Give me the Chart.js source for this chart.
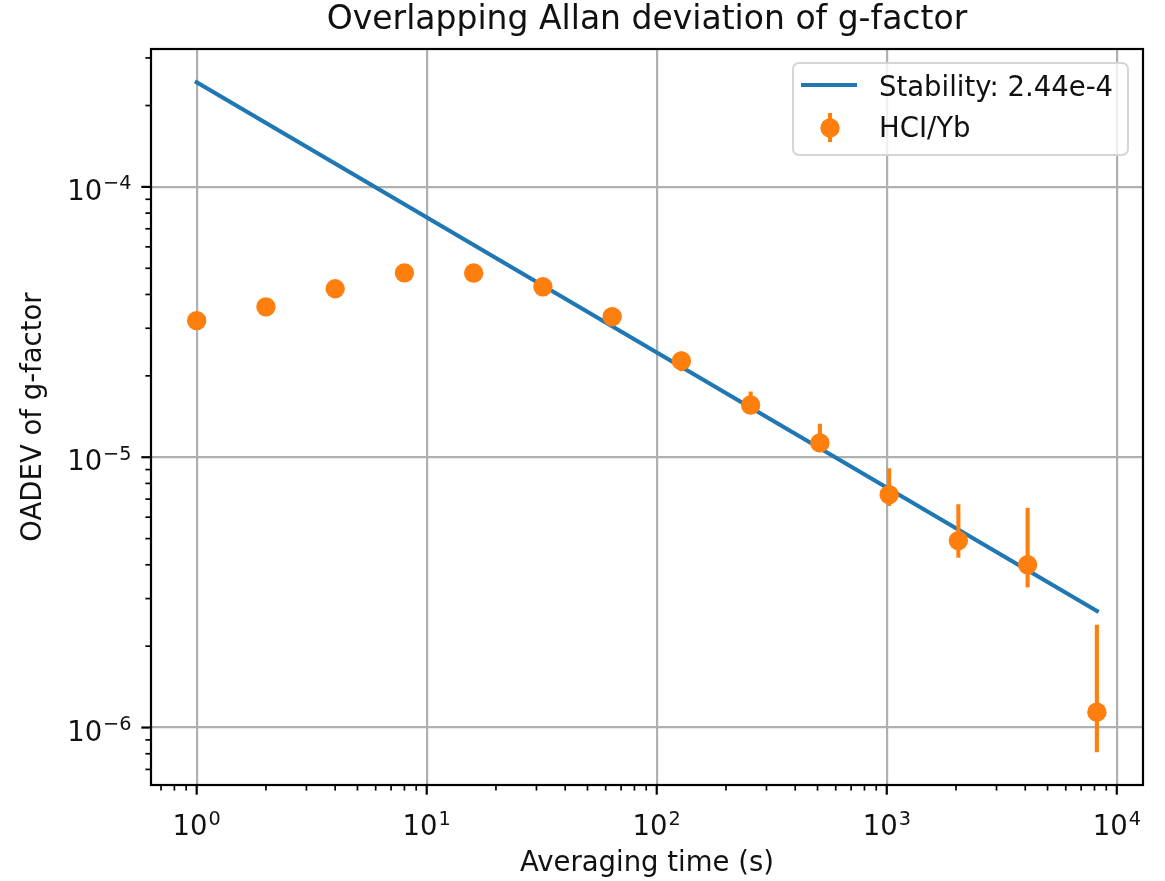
<!DOCTYPE html>
<html>
<head>
<meta charset="utf-8">
<script src="https://cdn.jsdelivr.net/npm/chart.js@4.4.1/dist/chart.umd.min.js"></script>
<style>
  html, body { margin: 0; padding: 0; background: #fff; }
  canvas { display: block; }
</style>
</head>
<body>
<canvas id="allanChart" width="1165" height="881"></canvas>
<script>
// averaging times (s) and measured OADEV
const tau = [1, 2, 4, 8, 16, 32, 64, 128, 256, 512, 1024, 2048, 4096, 8192];
const oadev = [3.20e-5, 3.60e-5, 4.20e-5, 4.81e-5, 4.80e-5, 4.27e-5, 3.31e-5,
               2.27e-5, 1.56e-5, 1.13e-5, 7.27e-6, 4.91e-6, 4.00e-6, 1.14e-6];
// error bar ends (lower / upper)
const errLow = [3.13e-5, 3.52e-5, 4.10e-5, 4.68e-5, 4.64e-5, 4.08e-5, 3.10e-5,
                2.08e-5, 1.45e-5, 1.05e-5, 6.6e-6, 4.25e-6, 3.3e-6, 8.1e-7];
const errHigh = [3.27e-5, 3.68e-5, 4.30e-5, 4.94e-5, 4.96e-5, 4.46e-5, 3.52e-5,
                 2.46e-5, 1.75e-5, 1.33e-5, 9.1e-6, 6.7e-6, 6.5e-6, 2.4e-6];

// fitted white-noise line (endpoints)
const fitTau = [1, 8192];
const fitDev = [2.44e-4, 2.70e-6];

// axis ranges and major ticks, labels drawn as 10^exp
const xMin = 0.633, xMax = 13000;
const yMin = 6.13e-7, yMax = 3.237e-4;
const xMajor = [1, 10, 100, 1000, 10000];
const xTickExp = ['0', '1', '2', '3', '4'];
const yMajor = [1e-6, 1e-5, 1e-4];
const yTickExp = ['\u22126', '\u22125', '\u22124'];

const BLUE = '#1f77b4';
const ORANGE = '#ff7f0e';
const FONT = "'DejaVu Sans', sans-serif";
const FS = 27.5;      // 10pt at 200 dpi
const LW = 4.1;       // 1.5pt lines

function findMajor(majors, v) {
    return majors.findIndex(m => Math.abs(v / m - 1) < 1e-6);
}

// all 1..9 x 10^n ticks inside the range
function logTicks(min, max) {
    const out = [];
    for (let e = Math.floor(Math.log10(min)); e <= Math.ceil(Math.log10(max)); e++) {
        for (let m = 1; m <= 9; m++) {
            const v = Number(m + 'e' + e);
            if (v >= min && v <= max) out.push({ value: v });
        }
    }
    return out;
}

// draws "10" with a raised exponent, x = left edge, y = baseline
function drawPow(ctx, x, y, exp) {
    ctx.font = FS + 'px ' + FONT;
    ctx.fillText('10', x, y);
    const w = ctx.measureText('10').width;
    ctx.font = (FS * 0.7) + 'px ' + FONT;
    ctx.fillText(exp, x + w + 1, y - 10.5);
}
function powWidth(ctx, exp) {
    ctx.font = FS + 'px ' + FONT;
    const w = ctx.measureText('10').width;
    ctx.font = (FS * 0.7) + 'px ' + FONT;
    return w + 1 + ctx.measureText(exp).width;
}

// error bars go under the markers
const errorBars = {
    id: 'errorBars',
    beforeDatasetDraw(chart, args) {
        if (args.index !== 0) return;
        const xs = chart.scales.x, ys = chart.scales.y, ctx = chart.ctx;
        ctx.save();
        ctx.strokeStyle = ORANGE;
        ctx.lineWidth = LW;
        tau.forEach((t, i) => {
            const px = xs.getPixelForValue(t);
            ctx.beginPath();
            ctx.moveTo(px, ys.getPixelForValue(errLow[i]));
            ctx.lineTo(px, ys.getPixelForValue(errHigh[i]));
            ctx.stroke();
        });
        ctx.restore();
    }
};

// frame, outward tick marks, tick labels and the in-axes legend
const decorations = {
    id: 'decorations',
    afterDraw(chart) {
        const ctx = chart.ctx, a = chart.chartArea;
        const xs = chart.scales.x, ys = chart.scales.y;
        ctx.save();
        ctx.strokeStyle = '#000';
        xs.ticks.forEach(t => {
            const major = findMajor(xMajor, t.value) >= 0;
            const px = xs.getPixelForValue(t.value);
            ctx.lineWidth = major ? 2.2 : 1.7;
            ctx.beginPath();
            ctx.moveTo(px, a.bottom);
            ctx.lineTo(px, a.bottom + (major ? 9.7 : 5.6));
            ctx.stroke();
        });
        ys.ticks.forEach(t => {
            const major = findMajor(yMajor, t.value) >= 0;
            const py = ys.getPixelForValue(t.value);
            ctx.lineWidth = major ? 2.2 : 1.7;
            ctx.beginPath();
            ctx.moveTo(a.left, py);
            ctx.lineTo(a.left - (major ? 9.7 : 5.6), py);
            ctx.stroke();
        });
        ctx.lineWidth = 2.2;
        ctx.strokeRect(a.left, a.top, a.right - a.left, a.bottom - a.top);

        // tick labels
        ctx.fillStyle = '#111';
        ctx.textBaseline = 'alphabetic';
        ctx.textAlign = 'left';
        xMajor.forEach((v, i) => {
            const px = xs.getPixelForValue(v);
            const w = powWidth(ctx, xTickExp[i]);
            drawPow(ctx, px - w / 2, a.bottom + 50, xTickExp[i]);
        });
        yMajor.forEach((v, i) => {
            const py = ys.getPixelForValue(v);
            const w = powWidth(ctx, yTickExp[i]);
            drawPow(ctx, a.left - 19.5 - w, py + 13, yTickExp[i]);
        });

        // legend box
        const bx = 793, by = 63, bw = 335, bh = 92;
        ctx.beginPath();
        ctx.roundRect(bx, by, bw, bh, 6);
        ctx.fillStyle = 'rgba(255,255,255,0.8)';
        ctx.fill();
        ctx.strokeStyle = '#d5d5d5';
        ctx.lineWidth = 2;
        ctx.stroke();

        ctx.strokeStyle = BLUE;
        ctx.lineWidth = LW;
        ctx.beginPath();
        ctx.moveTo(801, 85);
        ctx.lineTo(857, 85);
        ctx.stroke();

        ctx.strokeStyle = ORANGE;
        ctx.beginPath();
        ctx.moveTo(830, 113);
        ctx.lineTo(830, 142);
        ctx.stroke();
        ctx.fillStyle = ORANGE;
        ctx.beginPath();
        ctx.arc(830, 128, 9.7, 0, Math.PI * 2);
        ctx.fill();

        ctx.fillStyle = '#111';
        ctx.font = FS + 'px ' + FONT;
        ctx.textBaseline = 'alphabetic';
        ctx.fillText(chart.data.datasets[1].label, 879, 96);
        ctx.fillText(chart.data.datasets[0].label, 879, 137);
        ctx.restore();
    }
};

const ctx = document.getElementById('allanChart').getContext('2d');
const myChart = new Chart(ctx, {
    type: 'scatter',
    data: {
        datasets: [
            {
                label: 'HCI/Yb',
                data: tau.map((t, i) => ({ x: t, y: oadev[i] })),
                backgroundColor: ORANGE,
                borderWidth: 0,
                pointRadius: 9.7,
                pointHoverRadius: 9.7,
                showLine: false,
                order: 1
            },
            {
                label: 'Stability: 2.44e-4',
                data: fitTau.map((t, i) => ({ x: t, y: fitDev[i] })),
                borderColor: BLUE,
                borderWidth: LW,
                borderCapStyle: 'square',
                pointRadius: 0,
                showLine: true,
                order: 2
            }
        ]
    },
    options: {
        responsive: false,
        animation: false,
        devicePixelRatio: 1,
        layout: { padding: { left: 0, right: 22, top: 0, bottom: 0 } },
        plugins: {
            legend: { display: false },
            tooltip: { enabled: false },
            title: {
                display: true,
                fullSize: false,
                text: 'Overlapping Allan deviation of g-factor',
                color: '#111',
                font: { family: FONT, size: 33, weight: 'normal', lineHeight: 1.2 },
                padding: { top: 1, bottom: 8.4 }
            }
        },
        scales: {
            x: {
                type: 'logarithmic',
                min: xMin,
                max: xMax,
                bounds: 'data',
                afterBuildTicks: s => { s.min = xMin; s.max = xMax; s.ticks = logTicks(xMin, xMax); },
                afterFit: s => { s.height = 96; },
                border: { display: false },
                grid: {
                    drawTicks: false,
                    lineWidth: 2.2,
                    color: c => (c.tick && findMajor(xMajor, c.tick.value) >= 0) ? '#b0b0b0' : 'rgba(0,0,0,0)'
                },
                ticks: { display: false, autoSkip: false },
                title: {
                    display: true,
                    text: 'Averaging time (s)',
                    color: '#111',
                    font: { family: FONT, size: FS, lineHeight: 1.2 },
                    padding: { top: 0, bottom: 1 }
                }
            },
            y: {
                type: 'logarithmic',
                min: yMin,
                max: yMax,
                bounds: 'data',
                afterBuildTicks: s => { s.min = yMin; s.max = yMax; s.ticks = logTicks(yMin, yMax); },
                afterFit: s => { s.width = 151; },
                border: { display: false },
                grid: {
                    drawTicks: false,
                    lineWidth: 2.2,
                    color: c => (c.tick && findMajor(yMajor, c.tick.value) >= 0) ? '#b0b0b0' : 'rgba(0,0,0,0)'
                },
                ticks: { display: false, autoSkip: false },
                title: {
                    display: true,
                    text: 'OADEV of g-factor',
                    color: '#111',
                    font: { family: FONT, size: FS, lineHeight: 1.2 },
                    padding: { top: 17, bottom: 0 }
                }
            }
        }
    },
    plugins: [errorBars, decorations]
});
</script>
</body>
</html>
